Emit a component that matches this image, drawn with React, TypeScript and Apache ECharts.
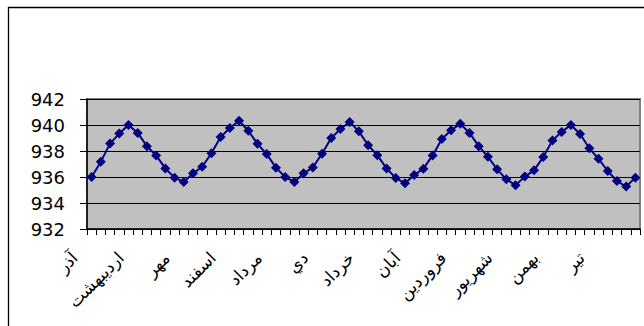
import React, { useEffect, useRef } from "react";
import * as echarts from "echarts";

// Persian months, starting from آذر (monthly sequence, 5 years)
const monthCycle = ["آذر", "دي", "بهمن", "اسفند", "فروردین", "اردیبهشت", "خرداد", "تیر", "مرداد", "شهریور", "مهر", "آبان"];
const categories: string[] = [];
for (let y = 0; y < 5; y++) for (const m of monthCycle) categories.push(m);

const values = [
  936.0, 937.18, 938.57, 939.34, 940.0, 939.39, 938.37, 937.66, 936.66, 935.95,
  935.62, 936.28, 936.79, 937.83, 939.08, 939.77, 940.33, 939.56, 938.55, 937.76,
  936.72, 936.0, 935.62, 936.28, 936.74, 937.79, 939.0, 939.69, 940.23, 939.51,
  938.44, 937.68, 936.66, 935.92, 935.52, 936.15, 936.64, 937.66, 938.93, 939.59,
  940.1, 939.39, 938.37, 937.56, 936.59, 935.82, 935.37, 936.03, 936.51, 937.53,
  938.8, 939.47, 940.0, 939.31, 938.21, 937.4, 936.46, 935.69, 935.27, 935.95,
];

const yMin = 932;
const yMax = 942;
const yStep = 2;

export default function App() {
  const ref = useRef<HTMLDivElement>(null);
  useEffect(() => {
    if (!ref.current) return;
    const chart = echarts.init(ref.current, null, { renderer: "svg" });
    chart.setOption({
      animation: false,
      backgroundColor: "#ffffff",
      graphic: [
        {
          type: "rect",
          shape: { x: 8.5, y: 7.5, width: 700, height: 400 },
          style: { fill: "none", stroke: "#000", lineWidth: 1.3 },
          silent: true,
          z: 100,
        },
      ],
      grid: {
        left: 87,
        right: 4,
        top: 99,
        bottom: 97,
        show: true,
        backgroundColor: "#C0C0C0",
        borderColor: "#808080",
        borderWidth: 2,
      },
      xAxis: {
        type: "category",
        data: categories,
        boundaryGap: true,
        axisLine: { show: true, lineStyle: { color: "#000", width: 1.5 } },
        axisTick: {
          show: true,
          interval: 0,
          length: 6,
          lineStyle: { color: "#000", width: 1 },
        },
        axisLabel: {
          interval: 4,
          rotate: 45,
          margin: 9,
          padding: [0, 24, 0, 0],
          color: "#000",
          fontSize: 17,
          fontFamily: "DejaVu Sans",
        },
        splitLine: { show: false },
      },
      yAxis: {
        type: "value",
        min: yMin,
        max: yMax,
        interval: yStep,
        axisLine: { show: true, lineStyle: { color: "#000", width: 1.5 } },
        axisTick: { show: true, length: 7, lineStyle: { color: "#000" } },
        axisLabel: {
          margin: 22,
          color: "#000",
          fontSize: 18,
          fontFamily: "DejaVu Sans",
        },
        splitLine: { show: true, lineStyle: { color: "#000", width: 1 } },
      },
      series: [
        {
          type: "line",
          data: values,
          symbol: "diamond",
          symbolSize: 10,
          showAllSymbol: true,
          lineStyle: { color: "#000080", width: 2 },
          itemStyle: { color: "#000080" },
        },
      ],
    });
    return () => chart.dispose();
  }, []);
  return (
    <div
      ref={ref}
      style={{ position: "fixed", left: 0, top: 0, width: 644, height: 326 }}
    />
  );
}
